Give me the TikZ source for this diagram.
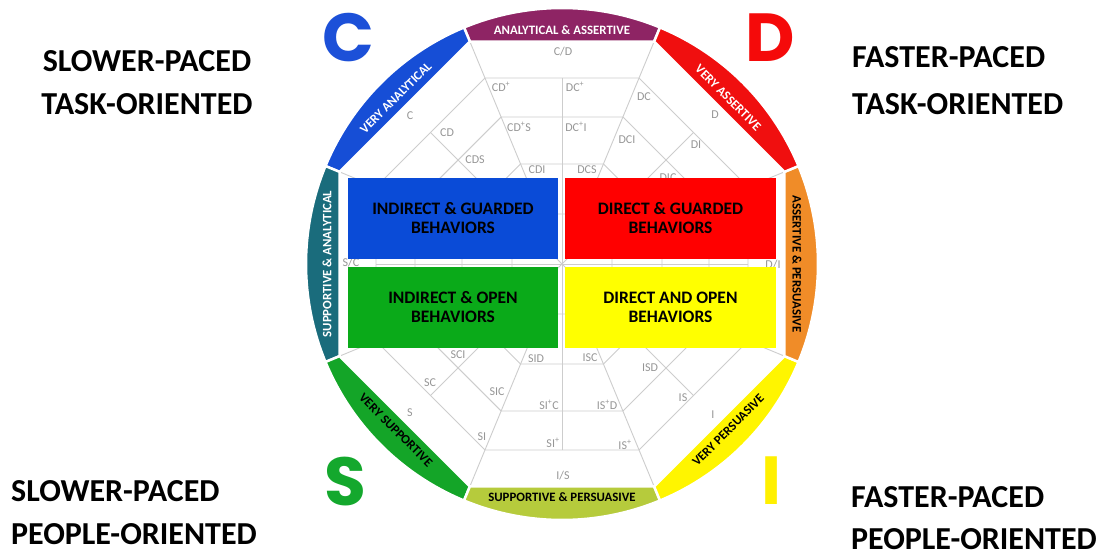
\documentclass[tikz,border=0pt]{standalone}
\usepackage{fontspec}
\setmainfont{Carlito}
\newfontfamily\popfont{Poppins}
\definecolor{cpurple}{RGB}{142,36,100}
\definecolor{cblue}{RGB}{22,78,214}
\definecolor{cteal}{RGB}{26,108,124}
\definecolor{cgreen}{RGB}{20,165,40}
\definecolor{clgreen}{RGB}{182,203,60}
\definecolor{cyellow}{RGB}{255,245,0}
\definecolor{corange}{RGB}{240,140,40}
\definecolor{cred}{RGB}{240,15,15}
\definecolor{boxblue}{RGB}{10,75,215}
\definecolor{boxred}{RGB}{255,0,0}
\definecolor{boxgreen}{RGB}{10,170,25}
\definecolor{boxyellow}{RGB}{255,255,0}
\definecolor{gridgray}{RGB}{205,205,205}
\definecolor{labgray}{RGB}{150,150,150}
\definecolor{letC}{RGB}{28,80,216}
\definecolor{letD}{RGB}{245,10,10}
\definecolor{letS}{RGB}{20,168,45}
\definecolor{letI}{RGB}{255,240,0}
\begin{document}
\begin{tikzpicture}[x=1pt,y=1pt,
  gridline/.style={draw=gridgray, line width=0.9pt},
  lab/.style={text=labgray, font=\fontsize{12}{12}\selectfont, inner sep=0pt},
  ringtxt/.style={font=\fontsize{12.8}{12.8}\selectfont\bfseries, inner sep=0pt},
  boxnode/.style={minimum width=210pt, minimum height=81pt, inner sep=0pt, align=center, font=\fontsize{17.5}{19}\selectfont\bfseries, text=black},
  corner/.style={font=\fontsize{32}{32}\selectfont\bfseries, inner sep=0pt, text=black},
  bigletter/.style={font=\popfont\bfseries\fontsize{68}{68}\selectfont, inner sep=0pt, anchor=base}]
\useasboundingbox (0,0) rectangle (1100,550);
\fill[white] (0,0) rectangle (1100,550);

% ---------- wheel ----------
\begin{scope}[shift={(562,286)}]
  % nested octagons
  \foreach \r in {201.32pt,159.11pt,108.24pt,54.12pt}
    \draw[gridline] (22.5:\r) -- (67.5:\r) -- (112.5:\r) -- (157.5:\r) -- (202.5:\r) -- (247.5:\r) -- (292.5:\r) -- (337.5:\r) -- cycle;
  % radials from octagon vertices
  \foreach \a in {22.5,67.5,...,337.5}
    \draw[gridline] (\a:240.8pt) -- (\a:54.12pt);
  % sector centre radials
  \foreach \a in {0,45,...,315}
    \draw[gridline] (\a:186pt) -- (0,0);
  % outer ring segments
  \foreach \a/\c [evaluate=\a as \s using \a-22.5, evaluate=\a as \e using \a+22.5] in
     {90/cpurple,135/cblue,180/cteal,225/cgreen,270/clgreen,315/cyellow,0/corange,45/cred}
    \filldraw[fill=\c, draw=white, line width=2.5pt, line join=round]
      (\s:240.8pt) -- (\s:256pt) arc[start angle=\s, end angle=\e, radius=256pt] -- (\e:240.8pt) -- cycle;
  % ring texts
  \node[ringtxt, text=white] (rtop) at (90:234pt) {ANALYTICAL \& ASSERTIVE};
  \node[ringtxt, text=white, rotate=45] (rul) at (135:235pt) {VERY ANALYTICAL};
  \node[ringtxt, text=white, rotate=90] (rl) at (180:235pt) {SUPPORTIVE \& ANALYTICAL};
  \node[ringtxt, text=black, rotate=-45] (rll) at (225:235pt) {VERY SUPPORTIVE};
  \node[ringtxt, text=black] (rb) at (270:233pt) {SUPPORTIVE \& PERSUASIVE};
  \node[ringtxt, text=black, rotate=45] (rlr) at (315:235pt) {VERY PERSUASIVE};
  \node[ringtxt, text=black, rotate=-90] (rr) at (0:235pt) {ASSERTIVE \& PERSUASIVE};
  \node[ringtxt, text=white, rotate=-45] (rur) at (45:235pt) {VERY ASSERTIVE};
\end{scope}

% ---------- grid labels ----------
\node[lab] (lCsD) at (563,498) {C/D};
\node[lab] (lCDp) at (501,463) {CD\textsuperscript{+}};
\node[lab] (lDCp) at (575,463) {DC\textsuperscript{+}};
\node[lab] (lCDpS) at (519,423) {CD\textsuperscript{+}S};
\node[lab] (lDCpI) at (576,423) {DC\textsuperscript{+}I};
\node[lab] (lCD) at (447,417) {CD};
\node[lab] (lDC) at (644,453) {DC};
\node[lab] (lC) at (410,434) {C};
\node[lab] (lD) at (715,435) {D};
\node[lab] (lCDS) at (475,390) {CDS};
\node[lab] (lDCI) at (627,410) {DCI};
\node[lab] (lDI) at (696,405) {DI};
\node[lab] (lCDI) at (537,380) {CDI};
\node[lab] (lDCS) at (587,380) {DCS};
\node[lab] (lDIC) at (668,372) {DIC};
\node[lab] (lSsC) at (351,287) {S/C};
\node[lab] (lDsI) at (773,285) {D/I};
\node[lab] (lSCI) at (458,195) {SCI};
\node[lab] (lSID) at (536,191) {SID};
\node[lab] (lISC) at (590,192) {ISC};
\node[lab] (lSC) at (430,167) {SC};
\node[lab] (lSIC) at (497,158) {SIC};
\node[lab] (lS) at (410,137) {S};
\node[lab] (lSI) at (482,113) {SI};
\node[lab] (lSIpC) at (549,145) {SI\textsuperscript{+}C};
\node[lab] (lSIp) at (553,107) {SI\textsuperscript{+}};
\node[lab] (lISpD) at (607,145) {IS\textsuperscript{+}D};
\node[lab] (lISp) at (625,105) {IS\textsuperscript{+}};
\node[lab] (lISD) at (650,182) {ISD};
\node[lab] (lIS) at (683,152) {IS};
\node[lab] (lI) at (713,135) {I};
\node[lab] (lIsS) at (563,74) {I/S};

% ---------- behaviour boxes ----------
\node[boxnode, fill=boxblue] (bIG) at (453,332) {INDIRECT \& GUARDED\\BEHAVIORS};
\node[boxnode, fill=boxred, minimum width=211pt] (bDG) at (670.5,332) {DIRECT \& GUARDED\\BEHAVIORS};
\node[boxnode, fill=boxgreen] (bIO) at (453,242.5) {INDIRECT \& OPEN\\BEHAVIORS};
\node[boxnode, fill=boxyellow, minimum width=211pt] (bDO) at (670.5,242.5) {DIRECT AND OPEN\\BEHAVIORS};

% ---------- big letters ----------
\node[bigletter, text=letC] (bigC) at (348.5,488) {C};
\node[bigletter, text=letD] (bigD) at (770.5,488) {D};
\node[bigletter, text=letS] (bigS) at (345,45) {S};
\node[bigletter, text=letI] (bigI) at (772,46) {I};

% ---------- corner captions ----------
\node[corner, anchor=base] (tl1) at (147,478) {SLOWER-PACED};
\node[corner, anchor=base] (tl2) at (147,435) {TASK-ORIENTED};
\node[corner, anchor=base west] (tr1) at (852,482) {FASTER-PACED};
\node[corner, anchor=base west] (tr2) at (852,435) {TASK-ORIENTED};
\node[corner, anchor=base west] (bl1) at (11,49) {SLOWER-PACED};
\node[corner, anchor=base west] (bl2) at (11,6) {PEOPLE-ORIENTED};
\node[corner, anchor=base west] (br1) at (851,43) {FASTER-PACED};
\node[corner, anchor=base west] (br2) at (851,1) {PEOPLE-ORIENTED};
\end{tikzpicture}
\end{document}
